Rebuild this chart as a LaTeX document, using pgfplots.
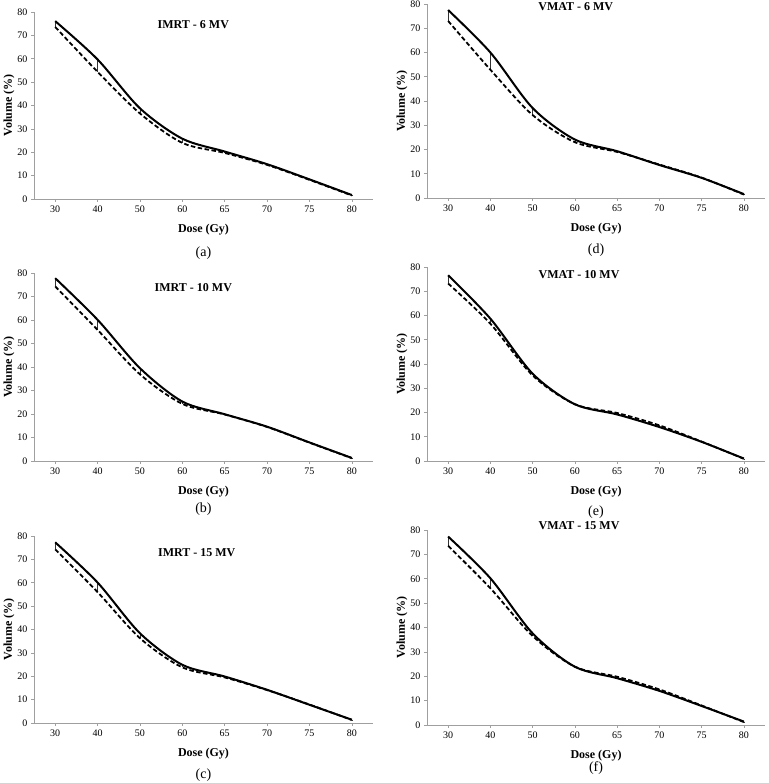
\documentclass[border=0pt]{standalone}
\usepackage{fontspec}
\setmainfont{Liberation Serif}
\usepackage{pgfplots}
\usepackage{pgfplotstable}
\pgfplotsset{compat=1.18}

% columns: category index, solid series, dashed series
\pgfplotstableread{
x s d
0 76.1 73.6
1 59.7 54.4
2 38.8 36.6
3 25.8 24.0
4 20.3 19.7
5 14.9 14.6
6 8.4 8.2
7 1.7 1.5
}\tabA
\pgfplotstableread{
x s d
0 77.8 74.3
1 60.1 55.8
2 39.5 36.9
3 25.3 24.3
4 19.9 19.8
5 14.6 14.5
6 7.9 7.8
7 1.3 1.2
}\tabB
\pgfplotstableread{
x s d
0 77.3 74.3
1 60.1 56.0
2 38.4 36.3
3 24.9 23.8
4 19.9 19.5
5 14.2 14.1
6 7.8 7.9
7 1.4 1.3
}\tabC
\pgfplotstableread{
x s d
0 77.5 73.0
1 60.0 52.9
2 37.1 34.2
3 24.1 23.0
4 19.3 19.0
5 13.6 13.8
6 8.3 8.4
7 1.6 1.4
}\tabD
\pgfplotstableread{
x s d
0 76.6 73.2
1 58.7 56.6
2 36.0 35.3
3 23.4 23.4
4 19.2 19.8
5 14.0 14.7
6 7.9 8.0
7 1.0 0.9
}\tabE
\pgfplotstableread{
x s d
0 77.3 73.5
1 60.2 56.1
2 37.6 36.5
3 23.9 23.9
4 19.2 19.8
5 14.0 14.6
6 7.8 8.0
7 1.4 1.2
}\tabF

\pgfplotsset{
 dvhaxis/.style={
  scale only axis, anchor=south west,
  xmin=-0.5, xmax=7.5, ymin=0, ymax=80,
  xtick={0,...,7}, xticklabels={30,40,50,60,65,70,75,80},
  ytick={0,10,...,80},
  axis x line*=bottom, axis y line*=left,
  axis line style={draw=gray!75, line width=0.7pt},
  tick style={draw=gray!75, line width=0.5pt},
  major tick length=3pt, tick align=outside,
  tick label style={font=\fontsize{10}{12}\selectfont},
  /pgf/number format/assume math mode=true,
  xlabel={Dose (Gy)}, ylabel={Volume (\%)},
  every axis x label/.style={at={(axis description cs:0.5,0)}, yshift=-31pt, anchor=center, font=\bfseries\fontsize{12}{14}\selectfont},
  every axis y label/.style={at={(axis description cs:0,0.5)}, xshift=-25pt, rotate=90, anchor=center, font=\bfseries\fontsize{12}{14}\selectfont},
  clip=false,
 },
 solidline/.style={black, line width=2pt, smooth, tension=0.5, mark=none},
 dashline/.style={black, line width=1.8pt, dash pattern=on 4.5pt off 2.5pt, smooth, tension=0.5, mark=none},
 hilo/.style={forget plot, mark=none, draw=none, error bars/.cd, y dir=minus, y explicit, error mark=none, error bar style={draw=black!80, solid, line width=0.5pt}},
}
\newcommand{\panel}[6]{%
  \addplot[hilo] table[x=x, y=s, y error expr=\thisrow{s}-\thisrow{d}] {#1};
  \addplot[dashline] table[x=x, y=d] {#1};
  \addplot[solidline] table[x=x, y=s] {#1};
  \node[font=\bfseries\fontsize{12}{14}\selectfont] at (rel axis cs:#3,#4) {#2};
  \node[font=\fontsize{14}{16}\selectfont] at (rel axis cs:0.5,0) [yshift=-#6pt] {#5};
}

\begin{document}
\begin{tikzpicture}
\useasboundingbox (0pt,0pt) rectangle (768pt,783pt);
\begin{axis}[dvhaxis, at={(34pt,584pt)}, width=339pt, height=187pt]
  \panel{\tabA}{IMRT - 6 MV}{0.47}{0.935}{(a)}{54}
\end{axis}
\begin{axis}[dvhaxis, at={(34pt,322pt)}, width=339pt, height=188pt]
  \panel{\tabB}{IMRT - 10 MV}{0.47}{0.92}{(b)}{48}
\end{axis}
\begin{axis}[dvhaxis, at={(34pt,60pt)}, width=339pt, height=187pt]
  \panel{\tabC}{IMRT - 15 MV}{0.48}{0.91}{(c)}{52}
\end{axis}
\begin{axis}[dvhaxis, at={(427pt,585pt)}, width=338pt, height=194pt]
  \panel{\tabD}{VMAT - 6 MV}{0.44}{0.985}{(d)}{52}
\end{axis}
\begin{axis}[dvhaxis, at={(427pt,322pt)}, width=338pt, height=194pt]
  \panel{\tabE}{VMAT - 10 MV}{0.45}{0.96}{(e)}{51}
\end{axis}
\begin{axis}[dvhaxis, at={(427pt,58pt)}, width=338pt, height=195pt]
  \panel{\tabF}{VMAT - 15 MV}{0.45}{1.02}{(f)}{43}
\end{axis}
\end{tikzpicture}
\end{document}
